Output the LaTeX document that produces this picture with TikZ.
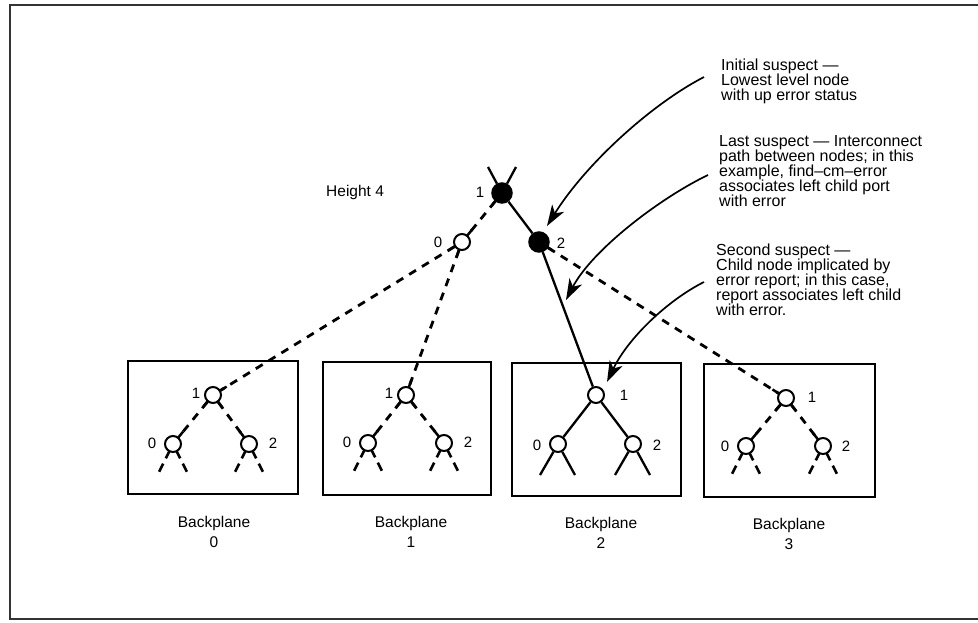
\documentclass[tikz,border=0pt]{standalone}
\usepackage{fontspec}
\setmainfont{Liberation Sans}
\usetikzlibrary{calc,arrows.meta}
\newcommand\dconn[2]{%
  \draw[dline] (#1) -- (#2);
  \draw[stub] ($(#1)!8pt!(#2)$) -- ($(#1)!16pt!(#2)$);
  \draw[stub] ($(#2)!8pt!(#1)$) -- ($(#2)!16pt!(#1)$);}
\newcommand\dleaves[1]{%
  \coordinate (#1-la) at ($(#1)+(-15,30)$);
  \coordinate (#1-lb) at ($(#1)+(15,30)$);
  \draw[stub] ($(#1)!8pt!(#1-la)$) -- ($(#1)!16pt!(#1-la)$);
  \draw[stub] ($(#1)!22pt!(#1-la)$) -- ($(#1)!31pt!(#1-la)$);
  \draw[stub] ($(#1)!8pt!(#1-lb)$) -- ($(#1)!16pt!(#1-lb)$);
  \draw[stub] ($(#1)!22pt!(#1-lb)$) -- ($(#1)!31pt!(#1-lb)$);}
\newcommand\sleaves[1]{%
  \coordinate (#1-la) at ($(#1)+(-18,31)$);
  \coordinate (#1-lb) at ($(#1)+(17,31)$);
  \draw[sline] (#1) -- (#1-la);
  \draw[sline] (#1) -- (#1-lb);}
\begin{document}
\begin{tikzpicture}[x=1pt,y=-1pt,
  pn/.style={circle,draw,line width=2pt,fill=white,minimum size=16pt,inner sep=0pt},
  fn/.style={circle,draw,line width=1.5pt,fill=black,minimum size=20pt,inner sep=0pt},
  sline/.style={line width=2.3pt},
  dline/.style={line width=2.8pt,dash pattern=on 8pt off 7pt},
  stub/.style={line width=2.5pt},
  bpbox/.style={draw,line width=2.6pt},
  lbl/.style={font=\fontsize{15}{15}\selectfont,inner sep=0pt},
  note/.style={font=\fontsize{16}{15}\selectfont,align=left,anchor=north west,inner sep=0pt},
  bplabel/.style={font=\fontsize{15.5}{20}\selectfont,align=center,anchor=north,inner sep=0pt},
  frame/.style={line width=2pt,draw=black!80},
  callout/.style={line width=1.7pt,-{Stealth[length=21pt,width=14pt,inset=6pt]}}
]
\useasboundingbox (0,0) rectangle (978,622);
% outer frame
\coordinate (fa) at (978,5);
\coordinate (fb) at (10,5);
\coordinate (fc) at (10,619);
\coordinate (fd) at (978,619);
\draw[frame] (fa) -- (fb) -- (fc) -- (fd);

% backplane boxes
\node[bpbox,minimum width=170pt,minimum height=133pt,inner sep=0pt] (box0) at (213,427.5) {};
\node[bpbox,minimum width=168pt,minimum height=133pt,inner sep=0pt] (box1) at (407,428.5) {};
\node[bpbox,minimum width=169pt,minimum height=133pt,inner sep=0pt] (box2) at (596.5,429.5) {};
\node[bpbox,minimum width=171pt,minimum height=133pt,inner sep=0pt] (box3) at (789.5,430.5) {};

% top nodes
\node[fn] (t1) at (502,193) {};
\node[pn] (t0) at (462,242) {};
\node[fn] (t2) at (539,242) {};
\coordinate (v1) at (488,167);
\coordinate (v2) at (516,167);

% backplane nodes
\node[pn] (a1) at (213,395) {};
\node[pn] (a0) at (173,444) {};
\node[pn] (a2) at (249,444) {};
\node[pn] (b1) at (406,395) {};
\node[pn] (b0) at (368,443) {};
\node[pn] (b2) at (444,443) {};
\node[pn] (c1) at (596,395) {};
\node[pn] (c0) at (558,444) {};
\node[pn] (c2) at (633,444) {};
\node[pn] (d1) at (786,398) {};
\node[pn] (d0) at (746,446) {};
\node[pn] (d2) at (823,446) {};

% top connections
\draw[sline] (t1) -- (v1);
\draw[sline] (t1) -- (v2);
\draw[sline] (t1) -- (t2);
\dconn{t1}{t0}
\dconn{t0}{a1}
\dconn{t0}{b1}
\draw[sline] (t2) -- (c1);
\dconn{t2}{d1}

% inside boxes
\dconn{a1}{a0}
\dconn{a1}{a2}
\dleaves{a0}
\dleaves{a2}
\dconn{b1}{b0}
\dconn{b1}{b2}
\dleaves{b0}
\dleaves{b2}
\draw[sline] (c1) -- (c0);
\draw[sline] (c1) -- (c2);
\sleaves{c0}
\sleaves{c2}
\dconn{d1}{d0}
\dconn{d1}{d2}
\dleaves{d0}
\dleaves{d2}

% node labels
\node[lbl] (lt1) at (480,192) {1};
\node[lbl] (lt0) at (438,242) {0};
\node[lbl] (lt2) at (561,243) {2};
\node[lbl] (la1) at (196,393) {1};
\node[lbl] (la0) at (152,443) {0};
\node[lbl] (la2) at (273,443) {2};
\node[lbl] (lb1) at (389,393) {1};
\node[lbl] (lb0) at (347,442) {0};
\node[lbl] (lb2) at (468,442) {2};
\node[lbl] (lc1) at (624,395) {1};
\node[lbl] (lc0) at (537,445) {0};
\node[lbl] (lc2) at (657,445) {2};
\node[lbl] (ld1) at (812,397) {1};
\node[lbl] (ld0) at (725,446) {0};
\node[lbl] (ld2) at (846,446) {2};

\node[font=\fontsize{15.5}{15}\selectfont,anchor=base west,inner sep=0pt] (h4) at (326,196) {Height 4};

% backplane labels
\node[bplabel] (bp0) at (214,516) {Backplane\\0};
\node[bplabel] (bp1) at (411,516) {Backplane\\1};
\node[bplabel] (bp2) at (601,517) {Backplane\\2};
\node[bplabel] (bp3) at (789,518) {Backplane\\3};

% annotations
\node[note] (n1) at (721,58.5) {Initial suspect ---\\Lowest level node\\with up error status};
\node[note] (n2) at (719,135) {Last suspect --- Interconnect\\path between nodes; in this\\example, find--cm--error\\associates left child port\\with error};
\node[note] (n3) at (716,244) {Second suspect ---\\Child node implicated by\\error report; in this case,\\report associates left child\\with error.};

% callout arrows
\coordinate (s1) at (704,77);
\coordinate (e1) at (547,226);
\coordinate (s2) at (708,175);
\coordinate (e2) at (566,300);
\coordinate (s3) at (704,282);
\coordinate (e3) at (607,382);
\draw[callout] (s1) .. controls (650,105) and (585,165) .. (e1);
\draw[callout] (s2) .. controls (660,198) and (592,250) .. (e2);
\draw[callout] (s3) .. controls (668,300) and (628,338) .. (e3);
\end{tikzpicture}
\end{document}
